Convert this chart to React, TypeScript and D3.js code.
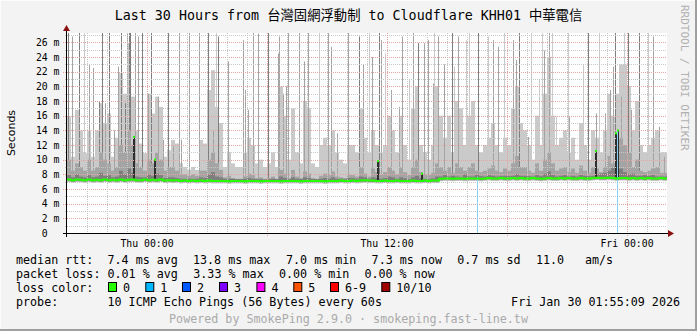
import React from 'react';
import * as d3 from 'd3';

// ---------- data ----------
// 150 bins of 12 minutes each over the 30 hour window (hour 4 = Thu 00:00)
const median = [
  7.3,7.2,7.3,7.25,7.2,7.3,7.2,7.25,7.2,7.3,7.2,7.25,7.2,7.3,7.2,7.25,7.3,7.2,7.2,7.3,7.2,7.25,7.2,7.3,7.15,7.2,7.15,7.2,7.1,7.15,7.1,7.15,7.1,7.15,7.1,7.15,7.1,7.1,
  7.1,7.1,7.05,7.1,7.1,7.1,7.05,7.1,7.1,7.1,7.05,7.1,7.1,7.1,7.1,7.05,7.1,7.1,7.1,7.1,7.05,7.1,7.1,7.1,7.1,7.1,7.05,7.1,7.1,7.1,7.15,7.1,7.1,7.15,7.1,7.15,7.2,7.15,
  7.15,7.1,7.1,7.15,7.1,7.1,7.15,7.1,7.1,7.1,7.15,7.1,7.1,7.15,7.1,7.15,7.15,7.4,7.45,7.45,7.4,7.45,7.45,7.4,7.45,7.45,7.45,7.4,7.45,7.5,7.45,7.45,7.5,7.45,7.45,7.5,7.45,7.5,
  7.45,7.45,7.5,7.45,7.4,7.45,7.5,7.45,7.45,7.5,7.45,7.5,7.45,7.45,7.5,7.45,7.45,7.5,7.55,7.5,7.5,7.55,7.5,7.45,7.5,7.5,7.45,7.5,7.45,7.5,7.45,7.5,7.45,7.45,7.5,7.45,
];
const smokeOuter = [
  15.9,10.4,16.8,14,10.9,14,10.4,14,17.7,15,16.3,10.4,13,21.8,19,25.9,18.6,14,12.2,10.9,19,16.3,18.6,17.2,10.4,11.3,12.7,12.2,9.5,9,8.6,9,8.6,12.7,12.2,19.5,22.2,17.2,
  15,9,11,9.5,9,9,11,13,12,9.5,10,9,9.5,11,9,20,16,10,17,11,9.5,18,17,9.5,9,12,13,12,14,11,10,9.5,12,12,11,17,13,11,
  14,12,11,12,16,14,11,16,12,10,17,20,12,11,10,12,20,16,13,16,11,18,17,12,16,18,12,11,12,13,15,12,11,13,12,17,20,15,
  14,12,10,16,12,19,24,16,12,13,14,11,13,10,15,12,10,14,13,11,14,19,16,19,23,23,20,14,18,12,11,12,13,14,11,11,
];
const smokeMid = [
  10,8.5,9.5,9,8.5,10,8.5,9,11,10,9.5,8.5,9,12,11,14,12,9.5,9,8.5,10,9.5,11,10,8.5,9,9,8.5,8,8,7.8,8,7.8,8.5,8.5,10,11,9.5,
  8.6,7.6,7.8,7.5,7.4,7.4,7.7,8.1,7.9,7.5,7.6,7.4,7.5,7.7,7.4,8.6,8.1,7.5,8.6,7.7,7.5,8.4,8.1,7.5,7.4,7.8,8.1,7.9,8.4,7.7,7.6,7.5,7.9,7.9,7.7,9.0,8.1,7.7,
  8.8,8.3,8,8.3,9,8.5,8,9,8.3,7.9,9,10,8.3,8,7.9,8.2,9.5,9,8.5,9,8.2,9.5,9,8.5,9,9.5,8.5,8.3,8.5,8.8,9.2,8.5,8.3,8.8,8.5,9.5,10.5,9,
  9,8.5,8.2,9.5,8.5,10,11,9.5,8.5,8.8,9,8.3,8.8,8.2,9.2,8.5,8.2,9,8.8,8.3,9,10.5,9.5,11,13,12,11,9,10,8.5,8.3,8.5,8.8,9,8.2,8.2,
];
const smokeInner = [
  7.9,7.6,8.0,7.7,7.6,7.9,7.6,7.7,8.2,7.8,7.9,7.6,7.7,8.5,8.0,8.8,8.2,7.7,7.6,7.6,8.0,7.8,8.1,7.9,7.5,7.6,7.6,7.5,7.4,7.4,7.4,7.4,7.4,7.6,7.5,8.0,8.3,7.7,
  7.6,7.4,7.4,7.4,7.35,7.35,7.4,7.5,7.4,7.35,7.35,7.3,7.35,7.4,7.35,7.7,7.5,7.35,7.6,7.4,7.35,7.6,7.5,7.35,7.35,7.4,7.5,7.4,7.6,7.4,7.4,7.35,7.5,7.5,7.4,7.7,7.6,7.4,
  7.6,7.5,7.4,7.5,7.7,7.6,7.4,7.6,7.45,7.35,7.6,7.8,7.45,7.4,7.35,7.45,7.7,7.7,7.9,7.7,7.8,7.7,7.65,8.0,7.7,7.7,7.9,7.75,7.7,7.9,7.8,7.7,7.75,7.8,7.75,7.8,8.0,7.8,
  7.8,7.75,7.7,7.9,7.75,8.1,8.4,7.9,7.7,7.8,7.9,7.7,7.8,7.7,7.9,7.8,7.75,7.8,8.0,8.1,8.2,8.5,8.9,9.5,8.8,8.3,8.0,8.1,7.8,7.8,7.9,7.8,7.9,7.7,7.7,7.7,
];
// single-column smoke spikes
const spikeHour = [
  0.04,0.25,0.58,0.85,1.12,1.28,1.58,1.75,1.92,2.08,2.37,2.53,2.70,2.92,3.00,3.08,3.15,3.42,3.53,3.75,4.03,4.20,4.53,4.78,5.03,5.28,5.58,5.70,6.08,6.62,7.03,7.28,7.45,
  7.53,8.03,8.78,8.92,9.03,9.32,9.53,10.03,10.53,10.62,10.78,10.95,11.03,11.58,11.87,12.07,12.58,13.03,13.2,13.48,14.03,14.58,14.78,
  15.12,15.25,15.58,15.7,15.92,16.2,16.58,16.75,17.08,17.28,17.57,17.87,18.03,18.28,18.37,18.53,18.87,19.25,19.37,19.53,19.95,20.12,20.55,21.03,21.28,21.53,21.87,22.28,22.45,
  22.58,23.03,23.2,23.62,23.75,23.87,24.12,24.25,24.45,25.03,25.12,25.78,26.03,26.45,26.62,26.92,27.15,27.28,27.42,27.7,27.87,28.03,28.2,28.58,29.03,29.32,29.62,29.87,
];
const spikeTop = [
  28,26.8,28,28,23,22.5,18,28,17.7,28,14,22.7,28,17.7,28,28,28,28,26.8,28,19,28,18.6,12.7,28,11.8,28,12.7,28,28,28,14,28,
  26.8,23.4,26.3,19.5,16.8,28,27.2,28,24.5,26.8,19,20,28,28,23.4,28,28,28,25.4,13.6,28,26.8,23,
  28,24,28,26.3,24.5,19.5,17.2,26.8,20.9,28,25.9,25.9,26.3,20.4,28,26.8,23,28,22.7,26.8,26.3,28,28,26.8,26.3,25.4,28,26.3,23.6,
  28,13.1,28,20.9,28,24.9,28,28,15.9,28,15.9,23,28,16.3,28,16.3,19.5,22.7,28,18.6,28,28,16.8,28,28,26.8,14.5,10.4,
];
const spikeLayer = [
  3,2,3,1,2,2,3,3,2,3,2,2,3,3,2,3,3,2,2,3,2,3,2,2,3,2,2,2,2,2,3,2,1,
  3,2,2,2,2,2,2,3,2,2,2,2,2,2,2,2,1,2,2,2,2,3,2,
  1,2,3,2,1,2,2,2,1,2,3,2,2,2,1,2,2,3,1,2,1,1,3,1,2,2,1,2,2,
  3,2,1,1,1,2,2,1,1,1,2,1,3,2,1,2,2,2,3,2,1,3,2,3,1,2,2,2,
];
const darkBarHour = [3.28, 4.37, 15.5, 17.7, 26.38, 27.42, 27.5];
const darkBarTop = [13.1, 10, 9.8, 8.1, 11.2, 13.6, 14];
const lossLineHour = [20.52, 27.5];
const lossLineTop = [7.7, 14];

const yTickValues = [2, 4, 6, 8, 10, 12, 14, 16, 18, 20, 22, 24, 26];
const xLabelHours = [4, 16, 28];
const xLabelText = ['Thu 00:00', 'Thu 12:00', 'Fri 00:00'];

const title = 'Last 30 Hours from 台灣固網浮動制 to Cloudflare KHH01 中華電信';
const rttRow = ['median rtt:', '7.4 ms avg', '13.8 ms max', '7.0 ms min', '7.3 ms now', '0.7 ms sd', '11.0', 'am/s'];
const lossRow = ['packet loss:', '0.01 % avg', '3.33 % max', '0.00 % min', '0.00 % now'];
const lossLabels = ['0', '1', '2', '3', '4', '5', '6-9', '10/10'];
const lossColors = ['#26ff00', '#00b8ff', '#0059ff', '#7e00ff', '#ff00ff', '#ff5500', '#ff0000', '#a10000'];
const probeText = '10 ICMP Echo Pings (56 Bytes) every 60s';
const dateText = 'Fri Jan 30 01:55:09 2026';
const footer = 'Powered by SmokePing 2.9.0 · smokeping.fast-line.tw';

// ---------- layout ----------
const W = 697, H = 331;
const BIN = 0.2;
const xs = d3.scaleLinear().domain([0, 30]).range([67, 667]);
const ys = d3.scaleLinear().domain([0, 27.28]).range([233, 33]);
const smokeColors = ['#cacaca', '#a4a4a4', '#7e7e7e', '#585858'];
const MONO = "'DejaVu Sans Mono', 'Noto Sans CJK TC', monospace";

export default function App() {
  const bins = median.map((m, i) => ({ i, m, h0: i * BIN, h1: (i + 1) * BIN }));
  const medLine = d3.line<[number, number]>().x(d => xs(d[0])).y(d => ys(d[1])).curve(d3.curveStepAfter);
  const medPts: [number, number][] = bins.map(b => [b.h0, b.m]);
  medPts.push([30, median[median.length - 1]]);

  const layerRects = (tops: number[], off: number, color: string) =>
    bins.map(b => {
      const x0 = xs(b.h0), x1 = xs(b.h1);
      const yt = ys(tops[b.i]);
      const yb = ys(b.m - off);
      return <rect key={color + b.i} x={x0} y={yt} width={x1 - x0} height={Math.max(0, yb - yt)} fill={color} />;
    });

  const baseAt = (h: number) => median[Math.min(median.length - 1, Math.floor(h / BIN))];

  const hMinor = d3.range(1, 28, 2);
  const vHours = d3.range(1, 30);

  const rttX = [16, 107.5, 193, 286, 371.6, 457.3, 536, 585];
  const lossX = [16, 107.5, 193.3, 279, 364.4];
  const boxX = [108, 145.3, 182, 219, 256.4, 293.3, 330, 381.3];

  return (
    <svg width={W} height={H} style={{ position: 'absolute', left: 0, top: 0 }} xmlns="http://www.w3.org/2000/svg">
      <defs>
        <clipPath id="plotclip"><rect x={67} y={33} width={600} height={200} /></clipPath>
      </defs>
      <rect x={0} y={0} width={W} height={H} fill="#f3f3f3" />
      <line x1={0} y1={0.5} x2={W} y2={0.5} stroke="#fcfcfc" />
      <line x1={0.5} y1={0} x2={0.5} y2={H} stroke="#fcfcfc" />
      <rect x={W - 2} y={0} width={2} height={H} fill="#a0a0a0" />
      <rect x={0} y={H - 2} width={W} height={2} fill="#a0a0a0" />

      <rect x={67} y={33} width={600} height={200} fill="#ffffff" />

      <g clipPath="url(#plotclip)">
        {layerRects(smokeOuter, 0.35, smokeColors[0])}
        {spikeHour.map((h, k) => {
          const x = Math.round(xs(h)) + 0.5;
          return <line key={'s' + k} x1={x} x2={x} y1={ys(baseAt(h))} y2={ys(spikeTop[k])}
            stroke={smokeColors[spikeLayer[k] - 1]} strokeWidth={1} />;
        })}
        {layerRects(smokeMid, 0.25, smokeColors[1])}
        {layerRects(smokeInner, 0.15, smokeColors[2])}
        {darkBarHour.map((h, k) => {
          const x = Math.round(xs(h));
          return <rect key={'d' + k} x={x} y={ys(darkBarTop[k])} width={2} height={ys(baseAt(h)) - ys(darkBarTop[k])} fill="#2e2e2e" />;
        })}
      </g>

      {/* grid */}
      {hMinor.map(v => (
        <line key={'hm' + v} x1={65} x2={667} y1={Math.round(ys(v)) + 0.5} y2={Math.round(ys(v)) + 0.5}
          stroke="#c8c8c8" strokeDasharray="1,1" />
      ))}
      {yTickValues.map(v => (
        <line key={'hM' + v} x1={63} x2={667} y1={Math.round(ys(v)) + 0.5} y2={Math.round(ys(v)) + 0.5}
          stroke="#e4a4a4" strokeDasharray="1,1" />
      ))}
      {vHours.map(h => {
        const major = (h - 4) % 6 === 0;
        const x = Math.round(xs(h)) + 0.5;
        return <line key={'v' + h} x1={x} x2={x} y1={33} y2={major ? 237 : 235}
          stroke={major ? '#e4a4a4' : '#c8c8c8'} strokeDasharray="1,1" />;
      })}

      <g clipPath="url(#plotclip)">
        {lossLineHour.map((h, k) => {
          const x = Math.round(xs(h)) + 0.5;
          return <line key={'l' + k} x1={x} x2={x} y1={ys(0)} y2={ys(lossLineTop[k])} stroke="#8ad3f0" />;
        })}
        <path d={medLine(medPts) || ''} fill="none" stroke="#26ff00" strokeWidth={2} />
        {darkBarHour.map((h, k) => (
          <rect key={'g' + k} x={Math.round(xs(h))} y={ys(darkBarTop[k]) - 1} width={2} height={2} fill="#26ff00" />
        ))}
      </g>

      {/* axes */}
      <line x1={63} x2={669} y1={233.5} y2={233.5} stroke="#000" strokeWidth={1.2} />
      <polygon points="668,230 674,233.5 668,237" fill="#8b1010" />
      <line x1={66.5} x2={66.5} y1={237} y2={30} stroke="#000" strokeWidth={1} />
      <polygon points="63,31 66.5,25 70,31" fill="#8b1010" />

      {/* y labels */}
      <g fontFamily={MONO} fontSize={9.8} fill="#000">
        {yTickValues.map(v => (
          <text key={'yl' + v} x={59.5} y={ys(v) + 3.5} textAnchor="end">{`${v} m`}</text>
        ))}
        <text x={59.5 - 2 * 5.9} y={ys(0) + 3.5} textAnchor="end">0</text>
        {xLabelHours.map((h, k) => (
          <text key={'xl' + h} x={xs(h)} y={246.5} textAnchor="middle">{xLabelText[k]}</text>
        ))}
      </g>

      <text x={15} y={133} transform="rotate(-90 15 133)" textAnchor="middle"
        fontFamily="'DejaVu Sans', sans-serif" fontSize={11} fill="#000">Seconds</text>

      <text x={348.5} y={19.5} textAnchor="middle" fontFamily={MONO} fontSize={13.33} fill="#000">{title}</text>

      <text x={681} y={5} transform="rotate(90 681 5)" fontFamily={MONO} fontSize={11} fill="#b0b0b0">RRDTOOL / TOBI OETIKER</text>

      {/* legend */}
      <g fontFamily={MONO} fontSize={11.7} fill="#000">
        {rttRow.map((t, k) => <text key={'r' + k} x={rttX[k]} y={263.5}>{t}</text>)}
        {lossRow.map((t, k) => <text key={'p' + k} x={lossX[k]} y={277.5}>{t}</text>)}
        <text x={16} y={291.5}>loss color:</text>
        {lossLabels.map((t, k) => (
          <g key={'b' + k}>
            <rect x={boxX[k] + 0.5} y={282.5} width={8} height={9} fill={lossColors[k]} stroke="#000" strokeWidth={1} />
            <text x={boxX[k] + 15} y={291.5}>{t}</text>
          </g>
        ))}
        <text x={16} y={305.9}>probe:</text>
        <text x={107.5} y={305.9}>{probeText}</text>
        <text x={680} y={305.9} textAnchor="end">{dateText}</text>
        <text x={348.5} y={322.5} textAnchor="middle" fill="#aaaaaa">{footer}</text>
      </g>
    </svg>
  );
}
